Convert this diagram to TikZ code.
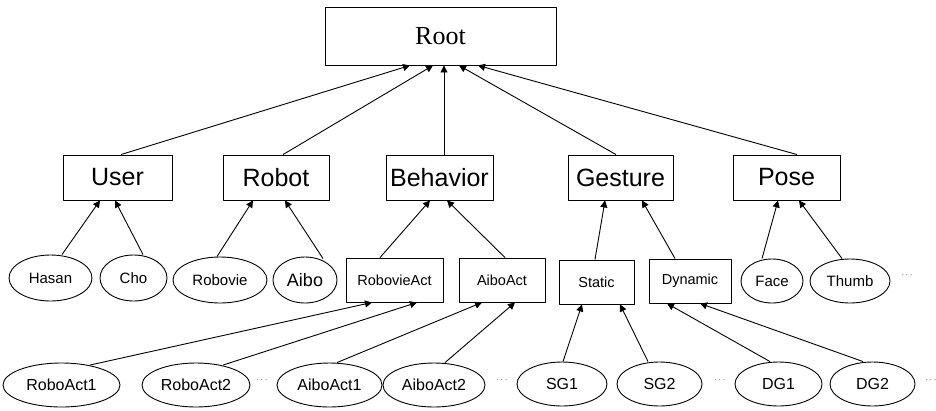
\documentclass[tikz,border=0pt]{standalone}
\usepackage{fontspec}
\setmainfont{Liberation Sans}
\newfontfamily\rootfont{Liberation Serif}
\usetikzlibrary{shapes.geometric,arrows.meta}

\begin{document}
\begin{tikzpicture}[x=1pt, y=-1pt, line width=0.9pt, line join=round, >={Triangle[length=7pt,width=7pt]},
		catbox/.style={draw, rectangle, inner sep=0pt, minimum height=45pt, font=\fontsize{25}{25}\selectfont},
		actbox/.style={draw, rectangle, inner sep=0pt, minimum height=44pt, font=\fontsize{14.5}{15}\selectfont},
		leaf/.style={draw, ellipse, inner sep=0pt, minimum height=46pt, font=\fontsize{15}{15}\selectfont},
		sample/.style={draw, ellipse, inner sep=0pt, minimum height=44pt, font=\fontsize{16}{16}\selectfont},
		more/.style={inner sep=0pt, font=\small}]
	\useasboundingbox (0,0) rectangle (936,410);
	% top
	\node[draw, rectangle, minimum width=231pt, minimum height=58pt, font=\rootfont\fontsize{26}{26}\selectfont] (root) at (440.5,36) {Root};
	% categories
	\node[catbox, minimum width=109pt] (user) at (117.5,177.5) {User};
	\node[catbox, minimum width=106pt] (robot) at (276,177.5) {Robot};
	\node[catbox, minimum width=107pt] (behavior) at (439.5,177.5) {Behavior};
	\node[catbox, minimum width=105pt] (gesture) at (620.5,177.5) {Gesture};
	\node[catbox, minimum width=107pt] (pose) at (786.5,177.5) {Pose};
	% third row
	\node[leaf, minimum width=83pt] (hasan) at (50.5,278) {Hasan};
	\node[leaf, minimum width=67pt] (cho) at (133.5,278) {Cho};
	\node[leaf, minimum width=94pt] (robovie) at (220,280) {Robovie};
	\node[leaf, minimum width=64pt, font=\fontsize{18}{18}\selectfont] (aibo) at (305,280) {Aibo};
	\node[actbox, minimum width=97pt] (robovieact) at (394.5,280) {RobovieAct};
	\node[actbox, minimum width=86pt] (aiboact) at (502,280) {AiboAct};
	\node[actbox, minimum width=75pt] (static) at (596.5,282) {Static};
	\node[actbox, minimum width=82pt] (dynamic) at (690,281) {Dynamic};
	\node[leaf, minimum width=62pt, minimum height=44pt] (face) at (772,281) {Face};
	\node[leaf, minimum width=80pt, minimum height=44pt] (thumb) at (850,281) {Thumb};
	\node[more] (moreposes) at (907,275) {$\cdots$};
	% bottom row
	\node[sample, minimum width=117pt] (roboact1) at (61.5,385) {RoboAct1};
	\node[sample, minimum width=108pt] (roboact2) at (196,385) {RoboAct2};
	\node[more] (moreroboacts) at (262,380) {$\cdots$};
	\node[sample, minimum width=105pt] (aiboact1) at (329.5,385) {AiboAct1};
	\node[sample, minimum width=102pt] (aiboact2) at (434,385) {AiboAct2};
	\node[more] (moreaiboacts) at (502,380) {$\cdots$};
	\node[sample, minimum width=90pt] (sg1) at (562,384) {SG1};
	\node[sample, minimum width=85pt] (sg2) at (659.5,384) {SG2};
	\node[more] (moresgs) at (720,380) {$\cdots$};
	\node[sample, minimum width=87pt] (dg1) at (778.5,384) {DG1};
	\node[sample, minimum width=85pt] (dg2) at (872.5,384) {DG2};
	\node[more] (moredgs) at (931,380) {$\cdots$};
	% arrows to root
	\draw[->] ([xshift=3.5pt]user.north) -- ([xshift=-30.5pt]root.south);
	\draw[->] ([xshift=7pt]robot.north) -- ([xshift=-7.5pt]root.south);
	\draw[->] ([xshift=4.5pt]behavior.north) -- ([xshift=3.5pt]root.south);
	\draw[->] ([xshift=-4.5pt]gesture.north) -- ([xshift=18.5pt]root.south);
	\draw[->] ([xshift=10.5pt]pose.north) -- ([xshift=37.5pt]root.south);
	% arrows to categories
	\draw[->] ([xshift=11.5pt]hasan.north) -- ([xshift=-17.5pt]user.south);
	\draw[->] ([xshift=9.5pt]cho.north) -- ([xshift=-2.5pt]user.south);
	\draw[->] ([xshift=-3pt]robovie.north) -- ([xshift=-23pt]robot.south);
	\draw[->] ([xshift=18pt,yshift=-2pt]aibo.north) -- ([xshift=9pt]robot.south);
	\draw[->] ([xshift=-14.5pt]robovieact.north) -- ([xshift=-9.5pt]behavior.south);
	\draw[->] ([xshift=3pt]aiboact.north) -- ([xshift=7.5pt]behavior.south);
	\draw[->] ([xshift=-1.5pt]static.north) -- ([xshift=-15.5pt]gesture.south);
	\draw[->] ([xshift=-15pt]dynamic.north) -- ([xshift=21.5pt]gesture.south);
	\draw[->] ([xshift=-10pt]face.north) -- ([xshift=-8.5pt]pose.south);
	\draw[->] ([xshift=-8pt]thumb.north) -- ([xshift=12.5pt]pose.south);
	% arrows to actions
	\draw[->] ([xshift=28.5pt,yshift=-2.5pt]roboact1.north) -- ([xshift=-22.5pt]robovieact.south);
	\draw[->] ([xshift=27pt,yshift=-2.5pt]roboact2.north) -- ([xshift=22.5pt]robovieact.south);
	\draw[->] ([xshift=7.5pt]aiboact1.north) -- ([xshift=-20pt]aiboact.south);
	\draw[->] ([xshift=11pt]aiboact2.north) -- ([xshift=13pt]aiboact.south);
	\draw[->] ([xshift=1pt]sg1.north) -- ([xshift=-14.5pt]static.south);
	\draw[->] ([xshift=-11.5pt]sg2.north) -- ([xshift=23.5pt]static.south);
	\draw[->] ([xshift=-8.5pt]dg1.north) -- ([xshift=-23pt]dynamic.south);
	\draw[->] ([xshift=-9.5pt]dg2.north) -- ([xshift=10pt]dynamic.south);
\end{tikzpicture}
\end{document}
